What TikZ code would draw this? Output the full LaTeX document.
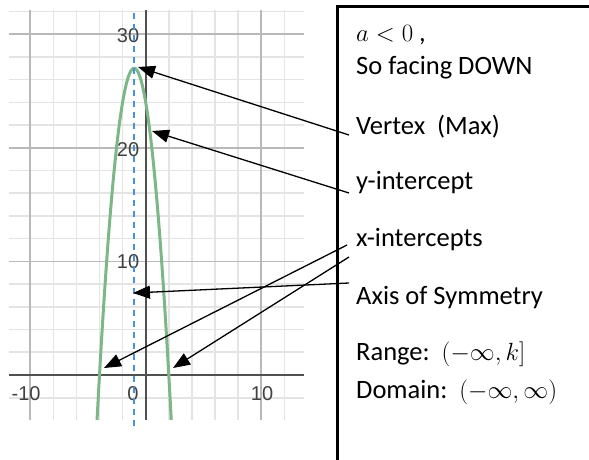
\documentclass[tikz,border=0pt]{standalone}
\usepackage{fontspec}
\setmainfont{Carlito}
\newfontfamily\tickfont{Liberation Sans}
\usetikzlibrary{arrows.meta,positioning}
\definecolor{gridminor}{RGB}{228,228,228}
\definecolor{gridmajor}{RGB}{185,185,185}
\definecolor{axisgray}{RGB}{80,80,80}
\definecolor{curvegreen}{RGB}{125,183,135}
\definecolor{symblue}{RGB}{75,145,215}
\tikzset{
  minorline/.style={draw=gridminor, line width=1.6pt},
  majorline/.style={draw=gridmajor, line width=1.8pt},
  axisline/.style={draw=axisgray, line width=2pt},
  tick/.style={font=\tickfont\fontsize{20}{20}\selectfont, text=black!75, inner sep=0pt},
  txt/.style={font=\fontsize{26.5}{31}\selectfont, inner sep=0pt, text height=18pt, text depth=6.5pt},
  arrow/.style={-{Triangle[length=17pt,width=13pt]}, line width=1.3pt},
  curve/.style={draw=curvegreen, line width=3pt},
  symline/.style={draw=symblue, line width=1.6pt, dash pattern=on 6pt off 5pt}
}

\begin{document}
\begin{tikzpicture}[x=1pt,y=-1pt]
\useasboundingbox (0,0) rectangle (589,460);
% graph
\begin{scope}[shift={(145.7pt,-375pt)}, x=11.55pt, y=11.36pt]
  \foreach \x in {-10,-8,...,12} \draw[minorline] (\x,-3.95) -- (\x,32.1);
  \foreach \y in {-2,0,...,32} \draw[minorline] (-11.84,\y) -- (13.7,\y);
  \foreach \x in {-10,10} \draw[majorline] (\x,-3.95) -- (\x,32.1);
  \foreach \y in {10,20,30} \draw[majorline] (-11.84,\y) -- (13.7,\y);
  \draw[axisline] (0,-3.95) -- (0,32.1);
  \draw[axisline] (-11.84,0) -- (13.7,0);
  \node[tick, anchor=east] (y30) at (-0.55,29.9) {30};
  \node[tick, anchor=east] (y20) at (-0.55,19.8) {20};
  \node[tick, anchor=east] (y10) at (-0.55,9.95) {10};
  \node[tick] (xm10) at (-10.35,-1.6) {-10};
  \node[tick] (x0) at (-1.1,-1.6) {0};
  \node[tick] (x10) at (10.07,-1.6) {10};
  \begin{scope}
    \clip (-11.84,-3.95) rectangle (13.7,32.1);
    \draw[curve] plot[domain=-4.3:2.3, samples=120, smooth] (\x,{-3*\x*\x-6*\x+24});
  \end{scope}
  \draw[symline] (-1,31.9) -- (-1,-4.6);
\end{scope}

% text box
\draw[line width=2.8pt] (600,6.5) -- (337.5,6.5) -- (337.5,470);
\node[txt, anchor=north west] (cond) at (356,23.7) {$a<0$ ,};
\node[txt, below right=7.8pt and 0pt of cond.south west] (facing) {So facing DOWN};
\node[txt, below right=34.5pt and 0pt of facing.south west] (vertex) {Vertex~~(Max)};
\node[txt, below right=30.5pt and 0pt of vertex.south west] (yint) {y-intercept};
\node[txt, below right=32.5pt and 0pt of yint.south west] (xint) {x-intercepts};
\node[txt, below right=32.5pt and 0pt of xint.south west] (axis) {Axis of Symmetry};
\node[txt, below right=31.5pt and 0pt of axis.south west] (range) {Range:~~$(-\infty,k]$};
\node[txt, below right=12.5pt and 0pt of range.south west] (domain) {Domain:~~$(-\infty,\infty)$};

% arrows
\coordinate (vtail) at (349,135);
\coordinate (vtip) at (138,67);
\coordinate (ytail) at (349,193);
\coordinate (ytip) at (152,131);
\coordinate (xltail) at (347,245);
\coordinate (xltip) at (104,368);
\coordinate (xrtail) at (349,257);
\coordinate (xrtip) at (173,368);
\coordinate (atail) at (349,283);
\coordinate (atip) at (133,293);
\draw[arrow] (vtail) -- (vtip);
\draw[arrow] (ytail) -- (ytip);
\draw[arrow] (xltail) -- (xltip);
\draw[arrow] (xrtail) -- (xrtip);
\draw[arrow] (atail) -- (atip);
\end{tikzpicture}
\end{document}
